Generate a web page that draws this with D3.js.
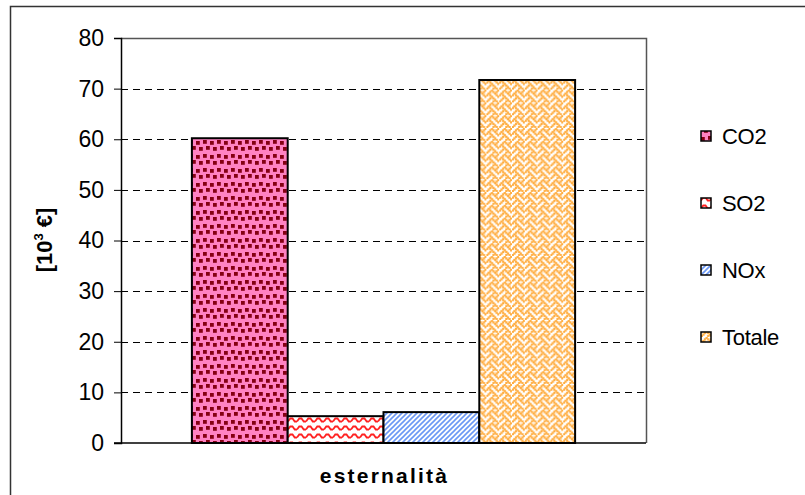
<!DOCTYPE html>
<html>
<head>
<meta charset="utf-8">
<script src="https://cdn.jsdelivr.net/npm/d3@7"></script>
<style>
  html, body { margin: 0; padding: 0; background: #fff; }
  svg { display: block; font-family: "Liberation Sans", Arial, sans-serif; }
</style>
</head>
<body>
<svg id="chart" width="805" height="495"></svg>
<script>
// Externalities of the plant, thousand euro
const categories = ["esternalità"];
const seriesNames = ["CO2", "SO2", "NOx", "Totale"];
const seriesValues = [60.2, 5.3, 6.1, 71.7];
const yTicks = [0, 10, 20, 30, 40, 50, 60, 70, 80];

const svg = d3.select("#chart");
const plot = { left: 121, top: 38, right: 646, bottom: 443 };

// Fill patterns for each series
const defs = svg.append("defs");
function tile(id, w, h, bg) {
  const p = defs.append("pattern").attr("id", id)
    .attr("patternUnits", "userSpaceOnUse").attr("width", w).attr("height", h);
  p.append("rect").attr("width", w).attr("height", h).attr("fill", bg);
  return p;
}
// draws an 8x8 bitmap hatch (rows given as bytes, MSB = left pixel)
function bitmapTile(id, rows, px, dot, fg, bg) {
  const p = tile(id, 8 * px, 8 * px, bg);
  rows.forEach((byte, r) => {
    for (let c = 0; c < 8; c++) {
      if (byte & (0x80 >> c)) {
        p.append("rect").attr("x", c * px - (dot - px) / 2).attr("y", r * px - (dot - px) / 2)
          .attr("width", dot).attr("height", dot).attr("fill", fg);
      }
    }
  });
  return p;
}
// confetti: dark red squares on pink
const pCO2 = tile("pat-co2", 14, 14, "#ff82c2");
[[0, 1], [7, 0], [3, 7], [10, 6]].forEach(([x, y]) =>
  pCO2.append("rect").attr("x", x).attr("y", y).attr("width", 3.8).attr("height", 3.8).attr("fill", "#850012"));
// wave: red zigzag on white
const pSO2 = tile("pat-so2", 9, 8, "#fff");
pSO2.append("path").attr("d", "M0,5.5 L2.25,2.5 L4.5,2.5 L6.75,5.5 L9,5.5")
  .attr("fill", "none").attr("stroke", "#ff2020").attr("stroke-width", 1.8);
// diagonal lines: blue on white
const pNOx = tile("pat-nox", 5, 5, "#fff");
pNOx.append("path").attr("d", "M-1,6 L6,-1 M-1,1 L1,-1 M4,6 L6,4")
  .attr("stroke", "#6b98f5").attr("stroke-width", 1.6);
// weave: orange on white
bitmapTile("pat-tot", [0x11, 0x2a, 0x44, 0xa2, 0x11, 0x28, 0x44, 0x8a], 1.6, 2.3, "#ffad40", "#fff");
const fills = ["url(#pat-co2)", "url(#pat-so2)", "url(#pat-nox)", "url(#pat-tot)"];

// outer chart frame
svg.append("rect").attr("x", 10.5).attr("y", 6.5).attr("width", 820).attr("height", 520)
  .attr("fill", "none").attr("stroke", "#333").attr("stroke-width", 1.5);

const y = d3.scaleLinear().domain([0, 80]).range([plot.bottom, plot.top]);
const x0 = d3.scaleBand().domain(categories).range([plot.left, plot.right])
  .paddingInner(0).paddingOuter(0.185);
const x1 = d3.scaleBand().domain(seriesNames).range([0, x0.bandwidth()]);

// dashed gridlines
svg.append("g").selectAll("line").data(yTicks.filter(t => t > 0 && t < 80)).join("line")
  .attr("x1", plot.left).attr("x2", plot.right)
  .attr("y1", d => Math.round(y(d)) + 0.5).attr("y2", d => Math.round(y(d)) + 0.5)
  .attr("stroke", "#000").attr("stroke-width", 1).attr("stroke-dasharray", "7,5");

// plot area frame (top and right)
svg.append("path")
  .attr("d", `M${plot.left},${plot.top + 0.5} H${plot.right + 0.5} V${plot.bottom}`)
  .attr("fill", "none").attr("stroke", "#555").attr("stroke-width", 1.5);

// bars
svg.append("g").selectAll("rect").data(seriesValues).join("rect")
  .attr("x", (d, i) => x0(categories[0]) + x1(seriesNames[i]))
  .attr("y", d => y(d))
  .attr("width", x1.bandwidth())
  .attr("height", d => plot.bottom - y(d))
  .attr("fill", (d, i) => fills[i])
  .attr("stroke", "#000").attr("stroke-width", 2);

// y axis
const yAxis = d3.axisLeft(y).tickValues(yTicks).tickSize(7).tickPadding(10).tickFormat(d3.format("d"));
const gy = svg.append("g").attr("transform", `translate(${plot.left},0)`).call(yAxis);
gy.select(".domain").attr("stroke", "#000").attr("stroke-width", 1.5);
gy.selectAll(".tick line").attr("stroke", "#000");
gy.selectAll(".tick text").attr("font-size", 23).attr("fill", "#000")
  .attr("font-family", "Liberation Sans, Arial, sans-serif");

// x baseline
svg.append("line").attr("x1", plot.left - 7).attr("x2", plot.right)
  .attr("y1", plot.bottom).attr("y2", plot.bottom).attr("stroke", "#000").attr("stroke-width", 1.5);

// axis titles
svg.append("text").attr("x", (plot.left + plot.right) / 2 + 1).attr("y", 483)
  .attr("text-anchor", "middle").attr("font-size", 21).attr("font-weight", "bold")
  .attr("letter-spacing", 2.2).text(categories[0]);
const yt = svg.append("text").attr("transform", "translate(52,240) rotate(-90)")
  .attr("text-anchor", "middle").attr("font-size", 22).attr("font-weight", "bold");
yt.append("tspan").text("[10");
yt.append("tspan").attr("font-size", 13).attr("dy", -9).text("3");
yt.append("tspan").attr("dy", 9).text(" €]");

// legend
const legendRows = [136, 203, 270, 337];
const lg = svg.append("g").selectAll("g").data(seriesNames).join("g")
  .attr("transform", (d, i) => `translate(701,${legendRows[i]})`);
lg.append("rect").attr("x", 0).attr("y", -5).attr("width", 10).attr("height", 10)
  .attr("fill", (d, i) => fills[i]).attr("stroke", "#000").attr("stroke-width", 1.5);
lg.append("text").attr("x", 21).attr("y", 7.5).attr("font-size", 22)
  .attr("letter-spacing", -0.3).text(d => d);
</script>
</body>
</html>
